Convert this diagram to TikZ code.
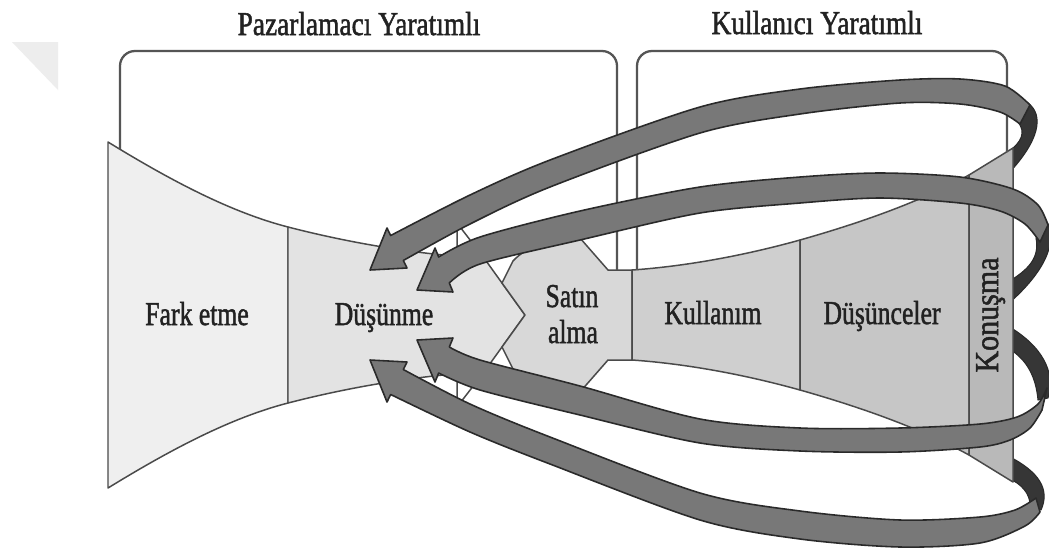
\documentclass[tikz,border=0pt]{standalone}
\usepackage{fontspec}
\setmainfont{Liberation Serif}
\newfontfamily\heavyserif{Liberation Serif}[FakeBold=1.6]
\definecolor{ink}{HTML}{222222}
\definecolor{edgecol}{HTML}{4A4A4A}
\definecolor{farkfill}{HTML}{EFEFEF}
\definecolor{dusfill}{HTML}{E3E3E3}
\definecolor{satinfill}{HTML}{D8D8D8}
\definecolor{kulfill}{HTML}{CFCFCF}
\definecolor{fikirfill}{HTML}{C6C6C6}
\definecolor{konfill}{HTML}{B9B9B9}
\definecolor{bandfill}{HTML}{787878}
\definecolor{bandedge}{HTML}{2A2A2A}
\definecolor{backfill}{HTML}{363636}
\definecolor{faintfill}{HTML}{EDEDED}
\definecolor{bracketcol}{HTML}{555555}
\begin{document}
\begin{tikzpicture}[x=0.02cm,y=-0.02cm,
  seg/.style={draw=edgecol,line width=0.85pt,line join=round},
  bracketline/.style={draw=bracketcol,line width=1.3pt,rounded corners=0.3cm},
  band/.style={fill=bandfill,draw=bandedge,line width=0.9pt,line join=round},
  backside/.style={fill=backfill,draw=bandedge,line width=0.6pt,line join=round},
  lbl/.style={text=ink,font=\heavyserif\fontsize{19}{22}\selectfont,anchor=base,inner sep=0pt},
  ]
\useasboundingbox (0,0) rectangle (1049,559);
\fill[white] (0,0) rectangle (1049,559);

% pale corner mark
\fill[faintfill] (12,42) -- (58,42) -- (58,90) -- cycle;

% undersides of the looping arrows (behind the funnel)
\path[backside] (1028,103) .. controls (1044,115) and (1040,140) .. (1008,174)
  -- (1008,152) .. controls (1022,142) and (1026,132) .. (1018,122) -- cycle;
\path[backside] (1046,220) .. controls (1058,240) and (1047,270) .. (1008,304)
  -- (1008,282) .. controls (1028,270) and (1040,258) .. (1036,238) -- cycle;
\path[backside] (1048,398) .. controls (1056,372) and (1042,346) .. (1008,326)
  -- (1008,348) .. controls (1028,360) and (1036,378) .. (1038,400) -- cycle;
\path[backside] (1041,510) .. controls (1050,490) and (1040,472) .. (1008,456)
  -- (1008,478) .. controls (1022,484) and (1030,494) .. (1030,505) -- cycle;

% funnel: marketer-created part
\path[seg,fill=farkfill] (108,142) .. controls (170,180) and (230,212) .. (288,227)
  -- (288,403) .. controls (230,418) and (170,450) .. (108,488) -- cycle;
\path[seg,fill=dusfill] (288,227) .. controls (350,243) and (420,255) .. (484,258)
  -- (525,315) -- (484,372) .. controls (420,375) and (350,387) .. (288,403) -- cycle;
\draw[seg] (457,256) -- (457,223) -- (484,258);
\draw[seg] (457,374) -- (457,407) -- (484,372);
\path[seg,fill=satinfill] (502,283) -- (513,261) .. controls (528,245) and (552,238) .. (580,238)
  -- (608,270) -- (632,270) -- (632,360) -- (608,360) -- (580,392)
  .. controls (552,392) and (528,385) .. (513,369) -- (502,347) -- (525,315) -- cycle;

% funnel: user-created part
\path[seg,fill=kulfill] (632,270) .. controls (690,266) and (750,254) .. (800,240)
  -- (800,390) .. controls (750,376) and (690,364) .. (632,360) -- cycle;
\path[seg,fill=fikirfill] (800,240) .. controls (860,223) and (920,202) .. (969,175)
  -- (969,455) .. controls (920,428) and (860,407) .. (800,390) -- cycle;
\path[seg,fill=konfill] (969,175) -- (1013,148) -- (1013,482) -- (969,455) -- cycle;

% group brackets
\draw[bracketline] (120,149) -- (120,51) -- (617,51) -- (617,270);
\draw[bracketline] (637,270) -- (637,51) -- (1007,51) -- (1007,152);

% stage labels
\node[lbl] (fark) at (197,325) {\scalebox{0.77}[1]{Fark etme}};
\node[lbl] (dusunme) at (384,325) {\scalebox{0.77}[1]{Düşünme}};
\node[lbl] (satin) at (572,307) {\scalebox{0.77}[1]{Satın}};
\node[lbl] (alma) at (573,343) {\scalebox{0.77}[1]{alma}};
\node[lbl] (kullanim) at (713,324) {\scalebox{0.77}[1]{Kullanım}};
\node[lbl] (dusunceler) at (882,324) {\scalebox{0.77}[1]{Düşünceler}};
\node[lbl,rotate=90] (konusma) at (998,315) {\scalebox{0.9}[1]{Konuşma}};

% feedback arrows, front faces
\path[band] (370,270) -- (387,228)
  -- plot[smooth] coordinates {(390.7,235.5) (470,195) (550,160) (700,107) (800,89) (900,80) (960,79) (1005,86) (1030,105)}
  -- plot[smooth] coordinates {(1020,124) (1000,112) (960,104) (900,103) (800,114) (700,133) (550,187) (470,224) (403.3,260.5)}
  -- (407,268) -- cycle;
\path[band] (417,290) -- (435,248)
  -- plot[smooth] coordinates {(438.7,257) (480,237) (580,211) (700,187) (800,177) (880,173) (960,177) (1013,189) (1038,205) (1048,225)}
  -- plot[smooth] coordinates {(1040,242) (1025,224) (1000,211) (960,203) (880,198) (800,203) (700,213) (580,240) (480,264) (449.3,283)}
  -- (453,292) -- cycle;
\path[band] (417,340) -- (453,338)
  -- plot[smooth] coordinates {(449.3,347) (480,360) (580,386) (700,419) (800,428) (900,428) (980,424) (1017,417) (1038,404) (1047,388)}
  -- plot[smooth] coordinates {(1042,410) (1030,428) (1010,440) (980,447) (900,452) (800,451) (700,443) (580,415) (480,390) (438.7,373)}
  -- (435,382) -- cycle;
\path[band] (370,360) -- (407,362)
  -- plot[smooth] coordinates {(403.3,369.5) (470,404) (550,437) (700,493) (800,511) (900,520) (980,517) (1015,510) (1036,498)}
  -- plot[smooth] coordinates {(1040,512) (1025,526) (980,543) (900,547) (800,539) (700,520) (550,464) (470,432) (390.7,394.5)}
  -- (387,402) -- cycle;

% group titles
\node[lbl] (marketer) at (359,35) {\scalebox{0.82}[1]{Pazarlamacı Yaratımlı}};
\node[lbl] (user) at (817,34) {\scalebox{0.82}[1]{Kullanıcı Yaratımlı}};
\end{tikzpicture}
\end{document}
